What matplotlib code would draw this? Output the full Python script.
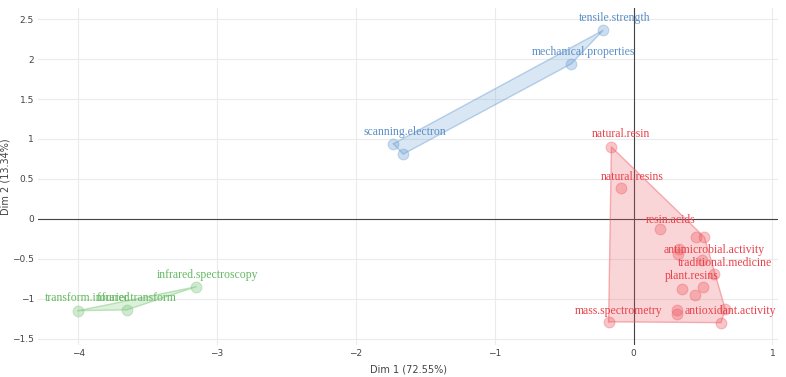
import matplotlib
matplotlib.use("Agg")
import matplotlib.pyplot as plt
import numpy as np

# cluster 1 (blue)
blue_x = [-0.22, -0.45, -1.73, -1.66]
blue_y = [2.36, 1.94, 0.94, 0.81]
blue_lab = ["tensile.strength", "mechanical.properties", "scanning.electron", ""]

# cluster 2 (red)
red_x = [-0.16, -0.09, 0.19, 0.45, 0.51, 0.33, 0.32, 0.49, 0.58, 0.35, 0.50, 0.44, 0.31, 0.31, 0.66, 0.63, -0.18]
red_y = [0.90, 0.38, -0.13, -0.23, -0.23, -0.38, -0.44, -0.51, -0.69, -0.88, -0.85, -0.96, -1.14, -1.19, -1.13, -1.30, -1.29]
red_lab = ["natural.resin", "natural.resins", "resin.acids", "", "", "", "antimicrobial.activity",
           "traditional.medicine", "", "plant.resins", "", "", "", "", "antioxidant.activity", "", "mass.spectrometry"]

# cluster 3 (green)
green_x = [-3.15, -3.65, -4.00]
green_y = [-0.85, -1.14, -1.15]
green_lab = ["infrared.spectroscopy", "fourier.transform", "transform.infrared"]

# label anchor positions (data units)
blue_lx = [-0.14, -0.36, -1.65, None]
blue_ly = [2.52, 2.09, 1.09, None]
red_lx = [-0.09, -0.01, 0.27, None, None, None, 0.58, 0.66, None, 0.42, None, None, None, None, 0.70, None, -0.11]
red_ly = [1.06, 0.52, -0.01, None, None, None, -0.39, -0.55, None, -0.72, None, None, None, None, -1.16, None, -1.15]
green_lx = [-3.07, -3.58, -3.93]
green_ly = [-0.70, -0.99, -0.99]

groups = [
    (blue_x, blue_y, blue_lab, blue_lx, blue_ly, "#6a9fd3", "#5b8ec4"),
    (red_x, red_y, red_lab, red_lx, red_ly, "#ee5a62", "#e8434c"),
    (green_x, green_y, green_lab, green_lx, green_ly, "#77c476", "#65b963"),
]


def hull(px, py):
    pts = sorted(set(zip(px, py)))
    def cross(o, a, b):
        return (a[0]-o[0])*(b[1]-o[1]) - (a[1]-o[1])*(b[0]-o[0])
    lower, upper = [], []
    for p in pts:
        while len(lower) >= 2 and cross(lower[-2], lower[-1], p) <= 0:
            lower.pop()
        lower.append(p)
    for p in reversed(pts):
        while len(upper) >= 2 and cross(upper[-2], upper[-1], p) <= 0:
            upper.pop()
        upper.append(p)
    return np.array(lower[:-1] + upper[:-1])


fig = plt.figure(figsize=(7.86, 3.77), dpi=100)
ax = fig.add_axes([38/786, 32/377, 740/786, 337/377])

for xs, ys, labs, lxs, lys, col, tcol in groups:
    h = hull(xs, ys)
    ax.fill(h[:, 0], h[:, 1], color=col, alpha=0.25, lw=0, zorder=2)
    ax.plot(np.r_[h[:, 0], h[0, 0]], np.r_[h[:, 1], h[0, 1]], color=col, alpha=0.45, lw=1, zorder=2)
    ax.scatter(xs, ys, s=60, color=col, alpha=0.35, edgecolors=col, linewidths=0.8, zorder=3)
    for lab, lx, ly in zip(labs, lxs, lys):
        if lab:
            ax.text(lx, ly, lab, color=tcol, fontsize=8.5, family="Liberation Serif",
                    ha="center", va="center", zorder=4)

ax.axhline(0, color="#444444", lw=0.8, zorder=1)
ax.axvline(0, color="#444444", lw=0.8, zorder=1)

ax.set_xlim(-4.29, 1.04)
ax.set_ylim(-1.58, 2.64)
ax.set_xticks([-4, -3, -2, -1, 0, 1])
ax.set_yticks([-1.5, -1, -0.5, 0, 0.5, 1, 1.5, 2, 2.5])
ax.set_yticklabels(["\u22121.5", "\u22121", "\u22120.5", "0", "0.5", "1", "1.5", "2", "2.5"])
ax.set_xticklabels(["\u22124", "\u22123", "\u22122", "\u22121", "0", "1"])
ax.grid(True, color="#ebebeb", lw=0.8, zorder=0)
ax.set_axisbelow(True)
for s in ax.spines.values():
    s.set_visible(False)
ax.tick_params(length=0, labelsize=6.5, colors="#444444", pad=3)
ax.set_xlabel("Dim 1 (72.55%)", fontsize=7, color="#444444")
ax.set_ylabel("Dim 2 (13.34%)", fontsize=7, color="#444444")
ax.xaxis.set_label_coords(0.5, -19/337)
ax.yaxis.set_label_coords(-27/740, 0.5)

fig.savefig("out.png", dpi=100)
